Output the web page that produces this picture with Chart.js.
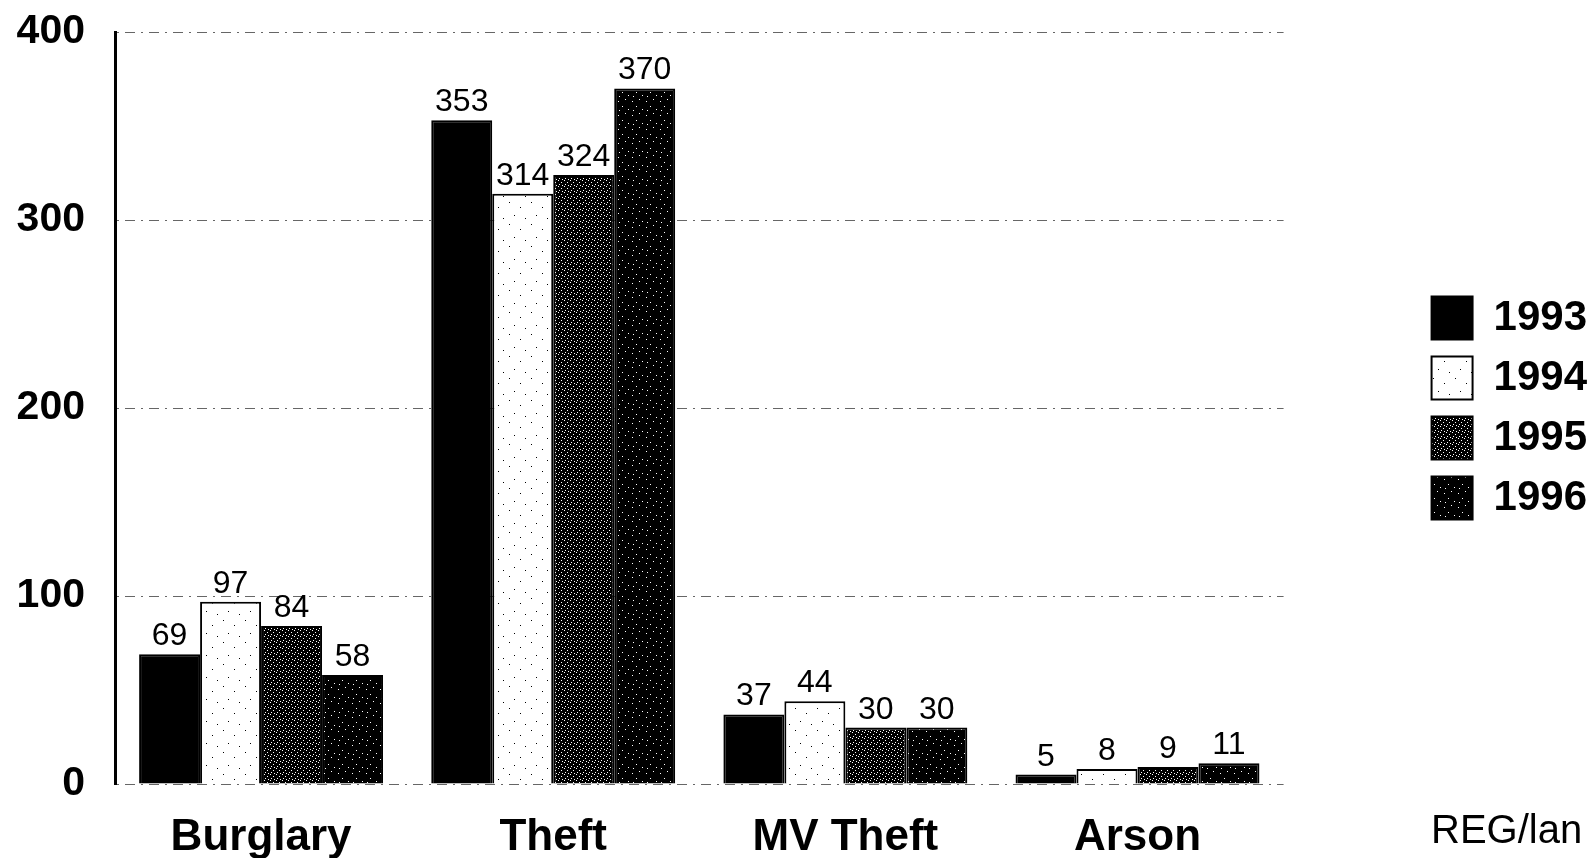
<!DOCTYPE html>
<html>
<head>
<meta charset="utf-8">
<script src="https://cdn.jsdelivr.net/npm/chart.js@4"></script>
<style>
  html, body { margin: 0; padding: 0; background: #fff; }
  #wrap { width: 1594px; height: 858px; position: relative; }
</style>
</head>
<body>
<div id="wrap"><canvas id="chart"></canvas></div>
<script>
const categories = ["Burglary", "Theft", "MV Theft", "Arson"];
const years = ["1993", "1994", "1995", "1996"];
const values1993 = [69, 353, 37, 5];
const values1994 = [97, 314, 44, 8];
const values1995 = [84, 324, 30, 9];
const values1996 = [58, 370, 30, 11];
const yTicks = [0, 100, 200, 300, 400];
const sourceNote = "REG/lan";

Chart.defaults.font.family = "'Liberation Sans', Arial, sans-serif";
Chart.defaults.color = "#000";

// small fixed tiles to imitate the scanned stipple fills
function makePattern(size, bg, fg, dots) {
  const c = document.createElement("canvas");
  c.width = size;
  c.height = size;
  const g = c.getContext("2d");
  g.fillStyle = bg;
  g.fillRect(0, 0, size, size);
  g.fillStyle = fg;
  dots.forEach(([x, y]) => g.fillRect(x, y, 1, 1));
  return g.createPattern(c, "repeat");
}

const fill1993 = "#000";
const fill1994 = makePattern(22, "#fff", "#000", [[3, 4], [14, 9], [8, 17], [19, 20]]);
const fill1995 = makePattern(6, "#000", "#fff", [[0, 0], [3, 2], [1, 4], [4, 5]]);
const fill1996 = makePattern(14, "#000", "#fff", [[2, 3], [9, 1], [6, 8], [12, 11], [3, 12]]);

const barLabels = {
  id: "barLabels",
  afterDatasetsDraw(chart) {
    const ctx = chart.ctx;
    ctx.save();
    ctx.font = "32px 'Liberation Sans', Arial, sans-serif";
    ctx.fillStyle = "#000";
    ctx.textAlign = "center";
    ctx.textBaseline = "alphabetic";
    chart.data.datasets.forEach((ds, i) => {
      chart.getDatasetMeta(i).data.forEach((bar, j) => {
        ctx.fillText(String(ds.data[j]), bar.x, bar.y - 9);
      });
    });
    ctx.restore();
  }
};

const noteText = {
  id: "noteText",
  afterDraw(chart) {
    const ctx = chart.ctx;
    ctx.save();
    ctx.font = "40px 'Liberation Sans', Arial, sans-serif";
    ctx.fillStyle = "#000";
    ctx.textAlign = "left";
    ctx.textBaseline = "alphabetic";
    ctx.fillText(sourceNote, 1431, 843);
    ctx.restore();
  }
};

const fills = [fill1993, fill1994, fill1995, fill1996];
const series = [values1993, values1994, values1995, values1996];

new Chart(document.getElementById("chart"), {
  type: "bar",
  data: {
    labels: categories,
    datasets: years.map((y, i) => ({
      label: y,
      data: series[i],
      backgroundColor: fills[i],
      borderColor: "#000",
      borderWidth: 2,
      categoryPercentage: 0.835,
      barPercentage: 1.0
    }))
  },
  options: {
    responsive: true,
    maintainAspectRatio: false,
    animation: false,
    layout: { padding: { top: 32, right: -3, bottom: 0, left: 0 } },
    plugins: {
      legend: {
        position: "right",
        fullSize: false,
        labels: {
          boxWidth: 41,
          boxHeight: 43,
          padding: 17,
          color: "#000",
          font: { size: 42, weight: "bold" }
        }
      },
      tooltip: { enabled: false }
    },
    scales: {
      x: {
        grid: { display: false },
        border: { display: false },
        ticks: { padding: 19, font: { size: 44, weight: "bold" }, color: "#000" },
        afterFit: (s) => { s.height = 74; }
      },
      y: {
        min: 0,
        max: 400,
        afterBuildTicks: (s) => { s.ticks = yTicks.map(v => ({ value: v })); },
        grid: {
          color: "#666",
          lineWidth: 1,
          drawTicks: false
        },
        border: { display: true, color: "#000", width: 3, dash: [2, 6, 10, 6] },
        ticks: { padding: 30, font: { size: 41, weight: "bold" }, color: "#000" },
        afterFit: (s) => {
          s.width = 115;
          s.paddingTop = 0;
          s.paddingBottom = 0;
        }
      },
      spacer: {
        type: "linear",
        position: "right",
        display: true,
        grid: { display: false, drawTicks: false },
        border: { display: false },
        ticks: { display: false },
        afterFit: (s) => { s.width = 131; }
      }
    }
  },
  plugins: [barLabels, noteText]
});
</script>
</body>
</html>
